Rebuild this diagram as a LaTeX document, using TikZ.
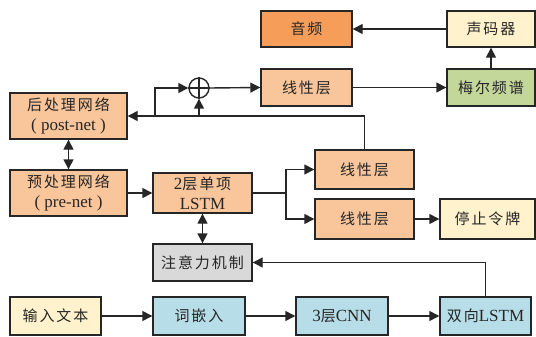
\documentclass[tikz,border=0pt]{standalone}
\usepackage{fontspec}
\setmainfont{Liberation Serif}
\newfontfamily\cjkfam[LetterSpace=13]{Noto Sans CJK SC}
\newcommand{\zhtxt}[1]{{\fontsize{15}{20}\cjkfam #1}}
\usetikzlibrary{arrows.meta}
\definecolor{peach}{HTML}{F9C59B}
\definecolor{orng}{HTML}{F79D5A}
\definecolor{ylw}{HTML}{FFF2CC}
\definecolor{grn}{HTML}{C4D79B}
\definecolor{blu}{HTML}{B7DDE8}
\definecolor{gry}{HTML}{D9D9D9}
\definecolor{ink}{HTML}{262626}
\begin{document}
\begin{tikzpicture}[x=1pt,y=-1pt,
  box/.style={draw=ink, line width=1.4pt, inner sep=0pt, text=ink, align=center,
    font=\fontsize{17}{20}\selectfont},
  conn/.style={draw=ink, line width=1.4pt, -{Triangle[length=10pt,width=10pt]}},
  dconn/.style={draw=ink, line width=1.4pt, {Triangle[length=10pt,width=10pt]}-{Triangle[length=10pt,width=10pt]}},
  plain/.style={draw=ink, line width=1.4pt}]
\useasboundingbox (0,0) rectangle (536,337);
% top row
\node[box, fill=orng, minimum width=91, minimum height=36] (audio) at (306.5,29) {\zhtxt{音频}};
\node[box, fill=ylw, minimum width=88, minimum height=36] (voc) at (491,29) {\zhtxt{声码器}};
\node[box, fill=peach, minimum width=91, minimum height=37] (lin1) at (306.5,87.5) {\zhtxt{线性层}};
\node[box, fill=grn, minimum width=88, minimum height=37] (mel) at (491,87.5) {\zhtxt{梅尔频谱}};
\node[draw=ink, line width=1.4pt, circle, minimum size=20, inner sep=0pt] (circ) at (199,88) {};
\draw[plain] (circ.north) -- (circ.south);
\draw[plain] (circ.west) -- (circ.east);
% left column
\node[box, fill=peach, minimum width=117, minimum height=46] (post) at (68.5,116) {\zhtxt{后处理网络}\\( post-net )};
\node[box, fill=peach, minimum width=117, minimum height=46] (pre) at (68.5,193) {\zhtxt{预处理网络}\\( pre-net )};
\node[box, fill=peach, minimum width=99, minimum height=40] (lstm) at (202.5,193) {2\zhtxt{层单项}\\LSTM};
\node[box, fill=gry, minimum width=99, minimum height=37] (att) at (202.5,262.5) {\zhtxt{注意力机制}};
\node[box, fill=peach, minimum width=99, minimum height=39] (lin2) at (364.5,169.5) {\zhtxt{线性层}};
\node[box, fill=peach, minimum width=99, minimum height=40] (lin3) at (364.5,219) {\zhtxt{线性层}};
\node[box, fill=ylw, minimum width=95, minimum height=40] (stop) at (487.5,219) {\zhtxt{停止令牌}};
% bottom row
\node[box, fill=ylw, minimum width=91, minimum height=38] (inp) at (55.5,316) {\zhtxt{输入文本}};
\node[box, fill=blu, minimum width=92, minimum height=38] (emb) at (199,316) {\zhtxt{词嵌入}};
\node[box, fill=blu, minimum width=92, minimum height=38] (cnn) at (342,316) {3\zhtxt{层}CNN};
\node[box, fill=blu, minimum width=91, minimum height=38] (bil) at (485.5,316) {\zhtxt{双向}LSTM};
% coordinates
\coordinate (j1) at (155,116);
\coordinate (j2) at (199,116);
\coordinate (split) at (286,193);
% connectors
\draw[conn] (voc.west) -- (audio.east);
\draw[conn] (lin1.east) -- (mel.west);
\draw[conn] (mel.north) -- (voc.south);
\draw[conn] (circ.east) -- (lin1.west);
\draw[conn] (lin2.north) |- (post.east);
\draw[conn] (j1) |- (circ.west);
\draw[conn] (j2) -- (circ.south);
\draw[dconn] (post.south) -- (pre.north);
\draw[conn] (pre.east) -- (lstm.west);
\draw[dconn] (lstm.south) -- (att.north);
\draw[plain] (lstm.east) -- (split);
\draw[conn] (split) |- (lin2.west);
\draw[conn] (split) |- (lin3.west);
\draw[conn] (lin3.east) -- (stop.west);
\draw[conn] (inp.east) -- (emb.west);
\draw[conn] (emb.east) -- (cnn.west);
\draw[conn] (cnn.east) -- (bil.west);
\draw[conn] (bil.north) |- (att.east);
\end{tikzpicture}
\end{document}
